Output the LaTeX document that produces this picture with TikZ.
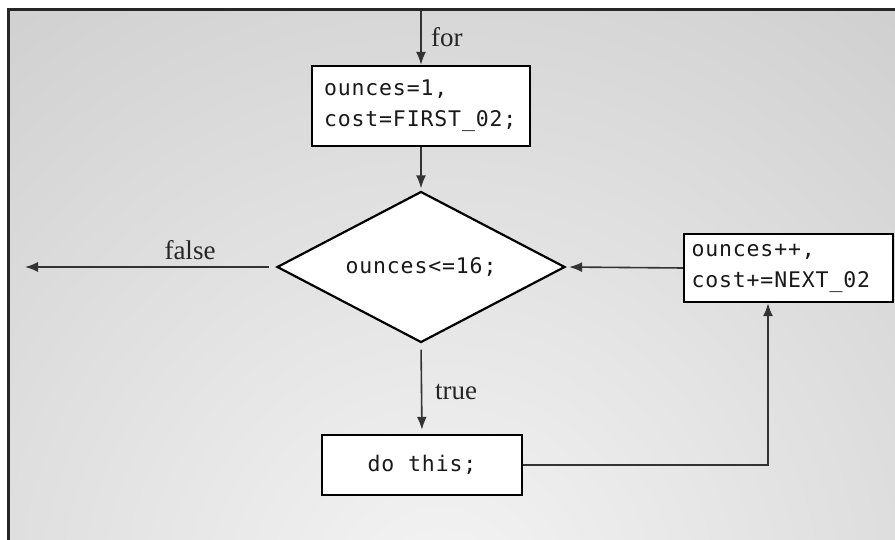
\documentclass[tikz,border=0pt]{standalone}
\usepackage{fontspec}
\setmainfont{Liberation Serif}
\newfontfamily\codefont[LetterSpace=4]{DejaVu Sans Mono}
\usetikzlibrary{shapes.geometric,arrows.meta}
\definecolor{bginner}{HTML}{F4F4F4}
\definecolor{bgouter}{HTML}{A4A4A4}
\definecolor{linecol}{HTML}{333333}
\pgfdeclareradialshading{bgshade}{\pgfpoint{0bp}{0bp}}{color(0bp)=(bginner); color(50bp)=(bgouter)}
\tikzset{
  codebox/.style={draw=black, line width=2.4pt, fill=white, font=\codefont\fontsize{21.5}{31}\selectfont, text=black!90, inner sep=0pt},
  decision/.style={diamond, draw=black, line width=2.2pt, fill=white, font=\codefont\fontsize{21.5}{31}\selectfont, text=black!90, inner sep=0pt},
  flow/.style={draw=linecol, line width=1.6pt, -{Latex[length=13pt,width=10pt]}},
  lbl/.style={font=\fontsize{27}{30}\selectfont, text=black!85, inner sep=0pt}
}
\begin{document}
\begin{tikzpicture}[x=1pt,y=-1pt]
\useasboundingbox (0,0) rectangle (895,540);
\fill[white] (0,0) rectangle (895,540);
\begin{scope}
\clip (8,10) rectangle (900,545);
\shade[shading=bgshade] (440,600) circle (820);
\end{scope}
\draw[line width=3pt, black!85] (8,545) -- (8,10) -- (900,10);

\node[codebox, minimum width=218pt, minimum height=80pt, text width=194pt, align=left] (init) at (421,106) {ounces=1,\\cost=FIRST\_02;};
\node[decision, minimum width=288pt, minimum height=151pt, aspect=1.9] (test) at (421,267) {ounces<=16;};
\node[codebox, minimum width=209pt, minimum height=68pt, text width=194pt, align=left] (upd) at (788.5,268) {ounces++,\\cost+=NEXT\_02};
\node[codebox, minimum width=200pt, minimum height=60pt] (body) at (422,465) {do this;};

\coordinate (start) at (421,11);
\coordinate (exit) at (25,267);

\draw[flow] (start) -- (init.north);
\draw[flow, shorten >=2pt] (init.south) -- (test.north);
\draw[flow, shorten <=7pt] (test.west) -- (exit);
\draw[flow, shorten <=6pt, shorten >=4pt] (test.south) -- (body.north);
\draw[flow, shorten >=3pt] (upd.west) -- (test.east);
\draw[flow] (body.east) -| ([xshift=-20.5pt]upd.south);

\node[lbl, anchor=west] (forlbl) at (431,37) {for};
\node[lbl] (falselbl) at (190,250) {false};
\node[lbl] (truelbl) at (456,392) {true};
\end{tikzpicture}
\end{document}
